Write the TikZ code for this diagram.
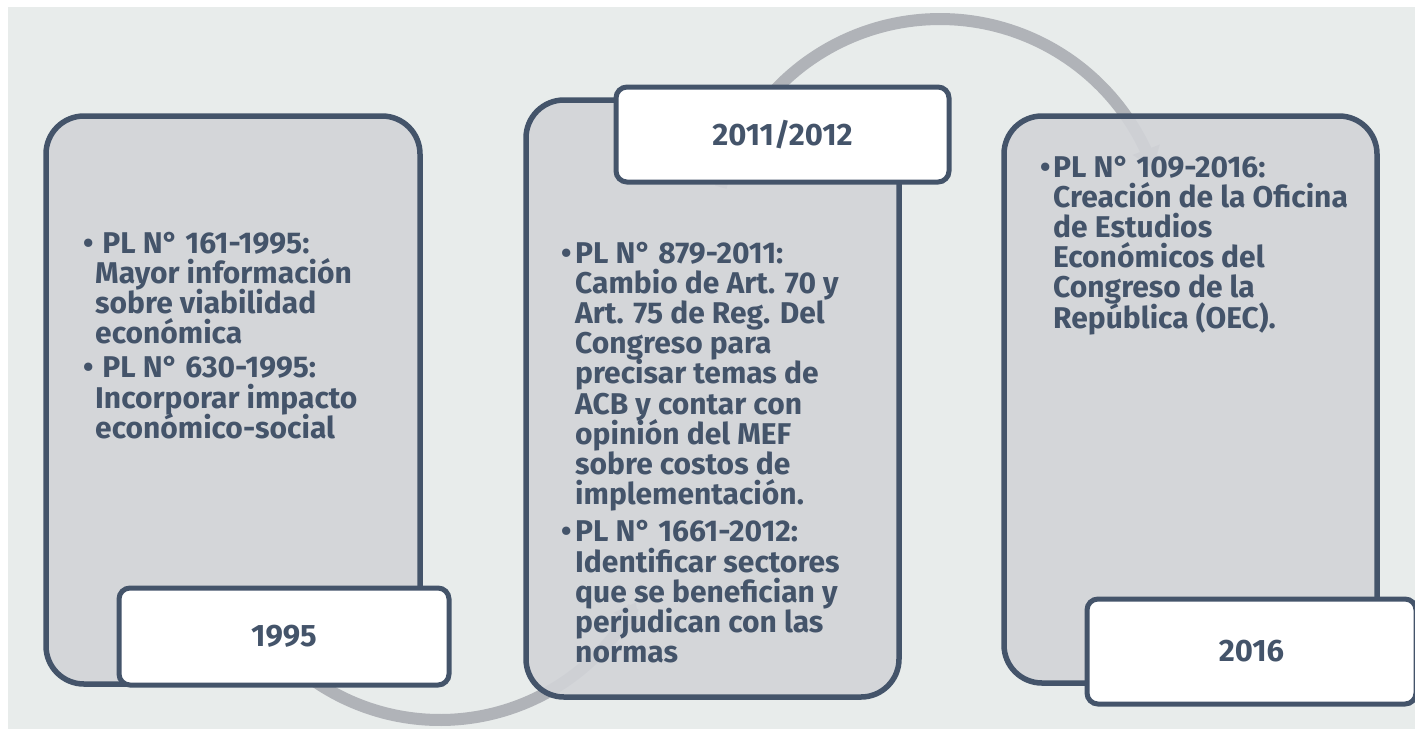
\documentclass[tikz,border=0pt]{standalone}
\usepackage{fontspec}
\setmainfont{Fira Sans}
\usetikzlibrary{arrows.meta}
\definecolor{bg}{HTML}{E8ECEB}
\definecolor{boxfill}{HTML}{D2D4D8}
\definecolor{edge}{HTML}{44546A}
\definecolor{arcc}{HTML}{B0B3B8}
\newcommand{\bodyfont}{\bfseries\fontsize{30}{30.2}\selectfont\lineskiplimit=-100pt}
\newcommand{\datefont}{\bfseries\fontsize{31}{32}\selectfont}
\begin{document}
\begin{tikzpicture}[x=1pt,y=-1pt,
  bigbox/.style={draw=edge, line width=5.5pt, fill=boxfill, fill opacity=0.9, draw opacity=1, text opacity=1, rounded corners=38pt, inner sep=0pt},
  datebox/.style={draw=edge, line width=5pt, fill=white, rounded corners=11pt, inner sep=0pt, font=\datefont, text=edge},
  arcline/.style={draw=arcc, line width=12pt, -{Triangle[width=28pt,length=20pt]}},
  itemtext/.style={anchor=base west, inner sep=0pt, text=edge}
]
\useasboundingbox (0,0) rectangle (1415,729);
\fill[white] (0,0) rectangle (1415,729);
\fill[bg] (8,7) rectangle (1415,729);

% arcs
\coordinate (lc) at (440,498);
\coordinate (uc) at (940,246);
\draw[arcline] plot[domain=150:28, samples=90] ({440+222*cos(\x)},{498+222*sin(\x)});
\draw[arcline] plot[domain=195:340, samples=90] ({940+227*cos(\x)},{246+227*sin(\x)});

% big boxes
\node[bigbox, minimum width=374pt, minimum height=568pt] (b1) at (233,400) {};
\node[bigbox, minimum width=373pt, minimum height=597pt] (b2) at (712.5,398.5) {};
\node[bigbox, minimum width=373pt, minimum height=567pt] (b3) at (1190.5,399.5) {};

% date boxes
\node[datebox, minimum width=330pt, minimum height=97pt] (d1) at (284,636.5) {1995};
\node[datebox, minimum width=333pt, minimum height=95pt] (d2) at (782.5,134.5) {2011/2012};
\node[datebox, minimum width=329pt, minimum height=105pt] (d3) at (1251.5,651.5) {2016};

% texts
\node[itemtext] (t1) at (83,253) {\bodyfont\parbox[t]{330pt}{\bodyfont\hangindent=12pt\hangafter=1\noindent\makebox[12pt][l]{•}\ PL N° 161-1995:\newline Mayor información\newline sobre viabilidad\newline económica\par
\vspace{4pt}
\hangindent=12pt\hangafter=1\noindent\makebox[12pt][l]{•}\ PL N° 630-1995:\newline Incorporar impacto\newline económico-social\par}};

\node[itemtext] (t2) at (561,263) {\bodyfont\parbox[t]{330pt}{\bodyfont\hangindent=14pt\hangafter=1\noindent\makebox[14pt][l]{•}PL N° 879-2011:\newline Cambio de Art. 70 y\newline Art. 75 de Reg. Del\newline Congreso para\newline precisar temas de\newline ACB y contar con\newline opinión del MEF\newline sobre costos de\newline implementación.\par
\vspace{7pt}
\hangindent=14pt\hangafter=1\noindent\makebox[14pt][l]{•}PL N° 1661-2012:\newline Identificar sectores\newline que se benefician y\newline perjudican con las\newline normas\par}};

\node[itemtext] (t3) at (1040,177) {\bodyfont\parbox[t]{330pt}{\bodyfont\hangindent=13pt\hangafter=1\noindent\makebox[13pt][l]{•}PL N° 109-2016:\newline Creación de la Oficina\newline de Estudios\newline Económicos del\newline Congreso de la\newline República (OEC).\par}};
\end{tikzpicture}
\end{document}
